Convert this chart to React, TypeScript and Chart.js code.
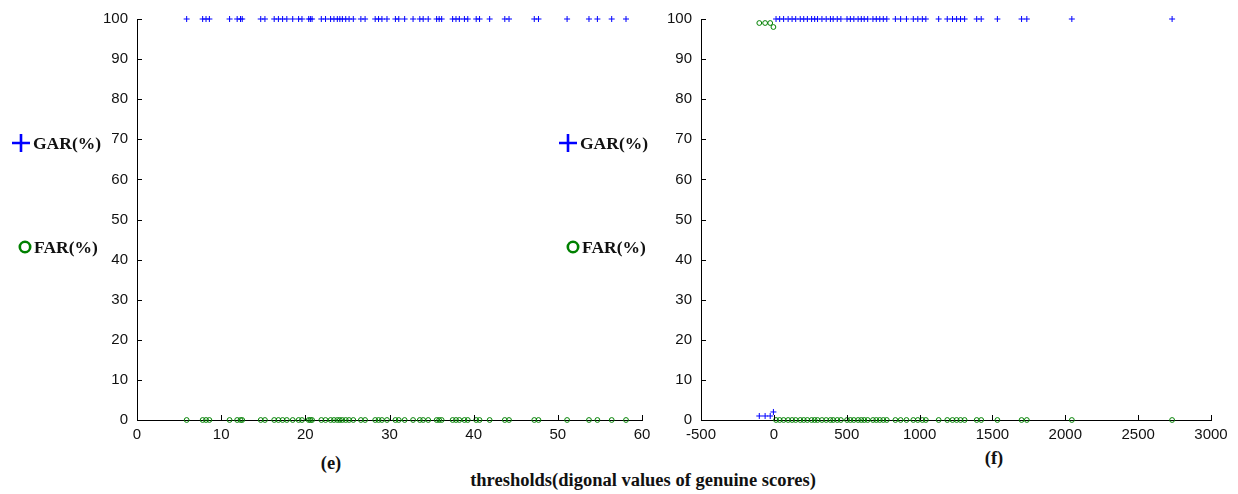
import React, { useEffect, useRef } from 'react';
import { Chart, registerables } from 'chart.js';
Chart.register(...registerables);

// ---------- data ----------
const leftXTicks = [0, 10, 20, 30, 40, 50, 60];
const rightXTicks = [-500, 0, 500, 1000, 1500, 2000, 2500, 3000];
const yTickValues = [0, 10, 20, 30, 40, 50, 60, 70, 80, 90, 100];

const leftThresholds = [
  5.9, 7.8, 8.2, 8.6, 11.0, 11.9, 12.3, 12.5, 14.7, 15.2, 16.3, 16.8, 17.3, 17.8, 18.5, 19.2,
  19.6, 20.4, 20.6, 20.8, 21.9, 22.4, 23.0, 23.4, 23.8, 24.1, 24.4, 24.8, 25.2, 25.7, 26.6, 27.1,
  28.3, 28.7, 29.1, 29.7, 30.7, 31.1, 31.8, 32.8, 33.6, 34.0, 34.6, 35.6, 35.9, 36.2, 37.5, 37.9,
  38.3, 38.9, 39.3, 40.3, 40.7, 41.9, 43.7, 44.2, 47.2, 47.7, 51.1, 53.7, 54.7, 56.4, 58.1,
];
const leftGAR = [
  100, 100, 100, 100, 100, 100, 100, 100, 100, 100, 100, 100, 100, 100, 100, 100,
  100, 100, 100, 100, 100, 100, 100, 100, 100, 100, 100, 100, 100, 100, 100, 100,
  100, 100, 100, 100, 100, 100, 100, 100, 100, 100, 100, 100, 100, 100, 100, 100,
  100, 100, 100, 100, 100, 100, 100, 100, 100, 100, 100, 100, 100, 100, 100,
];
const leftFAR = [
  0, 0, 0, 0, 0, 0, 0, 0, 0, 0, 0, 0, 0, 0, 0, 0,
  0, 0, 0, 0, 0, 0, 0, 0, 0, 0, 0, 0, 0, 0, 0, 0,
  0, 0, 0, 0, 0, 0, 0, 0, 0, 0, 0, 0, 0, 0, 0, 0,
  0, 0, 0, 0, 0, 0, 0, 0, 0, 0, 0, 0, 0, 0, 0,
];

const rightThresholds = [
  -100, -60, -25, -3,
  15, 40, 67, 98, 125, 150, 181, 205, 230, 259, 280, 300, 330, 359, 388, 407, 435, 460, 502, 525,
  549, 578, 600, 620, 644, 680, 703, 727, 751, 775, 834, 870, 910, 957, 988, 1019, 1043, 1131,
  1190, 1226, 1254, 1281, 1309, 1392, 1423, 1534, 1700, 1736, 2045, 2733,
];
const rightGAR = [
  1, 1, 1, 2,
  100, 100, 100, 100, 100, 100, 100, 100, 100, 100, 100, 100, 100, 100, 100, 100, 100, 100, 100, 100,
  100, 100, 100, 100, 100, 100, 100, 100, 100, 100, 100, 100, 100, 100, 100, 100, 100, 100,
  100, 100, 100, 100, 100, 100, 100, 100, 100, 100, 100, 100,
];
const rightFAR = [
  99, 99, 99, 98,
  0, 0, 0, 0, 0, 0, 0, 0, 0, 0, 0, 0, 0, 0, 0, 0, 0, 0, 0, 0,
  0, 0, 0, 0, 0, 0, 0, 0, 0, 0, 0, 0, 0, 0, 0, 0, 0, 0,
  0, 0, 0, 0, 0, 0, 0, 0, 0, 0, 0, 0,
];

const legendLabels = ['GAR(%)', 'FAR(%)'];
const panelLabels = ['(e)', '(f)'];
const xTitle = 'thresholds(digonal values of genuine scores)';

// ---------- styles ----------
const BLUE = 'rgb(0,0,255)';
const GREEN = 'rgb(0,128,0)';
const TICK_FONT = "'Liberation Sans', Arial, sans-serif";
const SERIF = "'Liberation Serif', 'Times New Roman', serif";

const inwardTicks = {
  id: 'inwardTicks',
  afterDraw(chart: any) {
    const { ctx, chartArea, scales } = chart;
    const xs = scales.x;
    const ys = scales.y;
    ctx.save();
    ctx.strokeStyle = '#000';
    ctx.lineWidth = 1;
    ctx.beginPath();
    xs.ticks.forEach((t: any) => {
      const px = Math.round(xs.getPixelForValue(t.value)) + 0.5;
      ctx.moveTo(px, chartArea.bottom);
      ctx.lineTo(px, chartArea.bottom - 5);
    });
    ys.ticks.forEach((t: any) => {
      const py = Math.round(ys.getPixelForValue(t.value)) + 0.5;
      ctx.moveTo(chartArea.left, py);
      ctx.lineTo(chartArea.left + 5, py);
    });
    ctx.stroke();
    ctx.restore();
  },
};

const sideLegend = {
  id: 'sideLegend',
  afterDraw(chart: any, _args: any, opts: any) {
    const { ctx } = chart;
    ctx.save();
    ctx.strokeStyle = BLUE;
    ctx.lineWidth = 2.6;
    ctx.beginPath();
    ctx.moveTo(opts.plusX - 9, opts.plusY);
    ctx.lineTo(opts.plusX + 9, opts.plusY);
    ctx.moveTo(opts.plusX, opts.plusY - 9);
    ctx.lineTo(opts.plusX, opts.plusY + 9);
    ctx.stroke();
    ctx.strokeStyle = GREEN;
    ctx.lineWidth = 2.6;
    ctx.beginPath();
    ctx.arc(opts.circX, opts.circY, 5.2, 0, Math.PI * 2);
    ctx.stroke();
    ctx.fillStyle = '#111';
    ctx.font = `bold 17.5px ${SERIF}`;
    ctx.textBaseline = 'middle';
    ctx.textAlign = 'left';
    ctx.fillText(legendLabels[0], opts.plusX + 12, opts.plusY + 1);
    ctx.fillText(legendLabels[1], opts.circX + 9, opts.circY + 1);
    ctx.restore();
  },
};

function makeConfig(
  xs: number[],
  gar: number[],
  far: number[],
  xTicks: number[],
  yAxisWidth: number,
  padRight: number,
  legendPos: any
): any {
  const garPts = xs.map((x, i) => ({ x, y: gar[i] }));
  const farPts = xs.map((x, i) => ({ x, y: far[i] }));
  return {
    type: 'scatter',
    data: {
      datasets: [
        {
          label: legendLabels[0],
          data: garPts,
          pointStyle: 'cross',
          pointRadius: 3,
          borderColor: BLUE,
          backgroundColor: BLUE,
          borderWidth: 1,
          clip: false,
        },
        {
          label: legendLabels[1],
          data: farPts,
          pointStyle: 'circle',
          pointRadius: 2.4,
          borderColor: GREEN,
          backgroundColor: 'rgba(0,0,0,0)',
          borderWidth: 1,
          clip: false,
        },
      ],
    },
    options: {
      responsive: false,
      animation: false,
      devicePixelRatio: 1,
      layout: { padding: { top: 19, right: padRight, left: 0, bottom: 0 } },
      plugins: {
        legend: { display: false },
        tooltip: { enabled: false },
        sideLegend: legendPos,
      },
      scales: {
        x: {
          type: 'linear',
          min: xTicks[0],
          max: xTicks[xTicks.length - 1],
          afterBuildTicks: (s: any) => {
            s.ticks = xTicks.map((v) => ({ value: v }));
          },
          afterFit: (s: any) => {
            s.height = 20;
          },
          grid: { display: false, drawTicks: false },
          border: { display: true, color: '#000', width: 1 },
          ticks: {
            padding: 6,
            color: '#111',
            font: { family: TICK_FONT, size: 15 },
            maxRotation: 0,
            autoSkip: false,
            callback: (v: any) => String(v),
          },
        },
        y: {
          type: 'linear',
          min: 0,
          max: 100,
          afterBuildTicks: (s: any) => {
            s.ticks = yTickValues.map((v) => ({ value: v }));
          },
          afterFit: (s: any) => {
            s.width = yAxisWidth;
          },
          grid: { display: false, drawTicks: false },
          border: { display: true, color: '#000', width: 1 },
          ticks: {
            padding: 9,
            color: '#111',
            font: { family: TICK_FONT, size: 15 },
            autoSkip: false,
            callback: (v: any) => String(v),
          },
        },
      },
    },
    plugins: [inwardTicks, sideLegend],
  };
}

function Panel(props: { left: number; width: number; config: () => any }) {
  const ref = useRef<HTMLCanvasElement | null>(null);
  useEffect(() => {
    if (!ref.current) return;
    const chart = new Chart(ref.current, props.config());
    return () => chart.destroy();
  }, []);
  return (
    <canvas
      ref={ref}
      width={props.width}
      height={440}
      style={{ position: 'absolute', left: props.left, top: 0, width: props.width, height: 440, display: 'block' }}
    />
  );
}

const labelStyle = (cx: number, cy: number): React.CSSProperties => ({
  position: 'absolute',
  left: cx,
  top: cy,
  transform: 'translate(-50%, -50%)',
  fontFamily: SERIF,
  fontWeight: 'bold',
  fontSize: 18.5,
  lineHeight: 1,
  whiteSpace: 'nowrap',
  color: '#111',
});

export default function App() {
  return (
    <div style={{ position: 'absolute', left: 0, top: 0, width: 1238, height: 494, background: '#fff', overflow: 'hidden' }}>
      <Panel
        left={0}
        width={660}
        config={() =>
          makeConfig(leftThresholds, leftGAR, leftFAR, leftXTicks, 137, 18, {
            plusX: 21,
            plusY: 143,
            circX: 25,
            circY: 247,
          })
        }
      />
      <Panel
        left={550}
        width={688}
        config={() =>
          makeConfig(rightThresholds, rightGAR, rightFAR, rightXTicks, 151, 27, {
            plusX: 18,
            plusY: 143,
            circX: 23,
            circY: 247,
          })
        }
      />
      <div style={labelStyle(331, 463)}>{panelLabels[0]}</div>
      <div style={labelStyle(994, 458)}>{panelLabels[1]}</div>
      <div style={labelStyle(643, 480)}>{xTitle}</div>
    </div>
  );
}
